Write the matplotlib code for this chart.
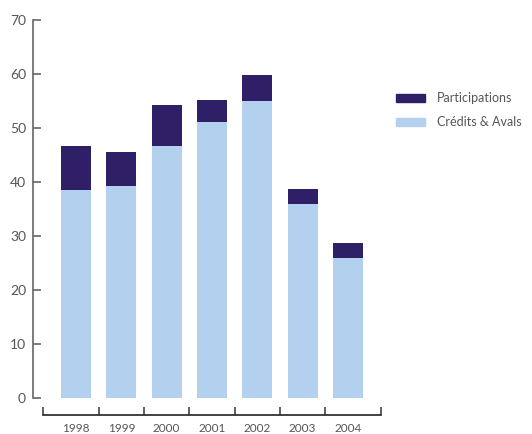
import matplotlib
matplotlib.use("Agg")
import matplotlib.pyplot as plt
from matplotlib.patches import Patch
import numpy as np

years = ["1998", "1999", "2000", "2001", "2002", "2003", "2004"]
credits = [38.5, 39.3, 46.7, 51.1, 55.0, 36.0, 26.0]
participations = [8.2, 6.2, 7.6, 4.1, 4.8, 2.7, 2.7]

light = "#B3D0EE"
dark = "#2E1F66"
txt = "#555555"

plt.rcParams['font.family'] = ['Lato', 'DejaVu Sans']

W, H = 532, 434
fig = plt.figure(figsize=(W / 100, H / 100), dpi=100)
px0, px1 = 33, 390
py_top, py_bot = 20, 415
ax = fig.add_axes([px0 / W, (H - py_bot) / H, (px1 - px0) / W, (py_bot - py_top) / H])

x = np.arange(len(years))
ax.bar(x, credits, width=0.66, color=light, label="Crédits & Avals")
ax.bar(x, participations, bottom=credits, width=0.66, color=dark, label="Participations")

ax.set_xlim(-0.95, 6.93)
ax.set_ylim(-3.15, 70)

for s in ["top", "right"]:
    ax.spines[s].set_visible(False)
ax.spines["left"].set_bounds(0, 70)
ax.spines["left"].set_color("#666666")
ax.spines["left"].set_linewidth(1.2)
ax.spines["bottom"].set_bounds(-0.73, 6.73)
ax.spines["bottom"].set_color("#222222")
ax.spines["bottom"].set_linewidth(1.2)

ax.set_yticks(np.arange(0, 71, 10))
ax.tick_params(axis="y", direction="in", length=6, width=1.2, color="#666666",
               labelcolor=txt, labelsize=10, pad=5)

ax.set_xticks(x)
ax.set_xticklabels(years)
ax.set_xticks([-0.73, 0.5, 1.5, 2.5, 3.5, 4.5, 5.5, 6.73], minor=True)
ax.tick_params(axis="x", which="major", length=0, labelcolor=txt, labelsize=8.5, pad=6)
ax.tick_params(axis="x", which="minor", direction="in", length=6, width=1.2, color="#444444")

handles = [Patch(color=dark, label="Participations"), Patch(color=light, label="Crédits & Avals")]
fig.legend(handles=handles, loc="upper left", bbox_to_anchor=(396 / W, 1 - 92 / H),
           frameon=False, fontsize=9, handlelength=2.3, handleheight=0.6,
           handletextpad=1.0, labelspacing=1.0, labelcolor=txt,
           borderpad=0, borderaxespad=0)

fig.savefig("out.png", dpi=100)
